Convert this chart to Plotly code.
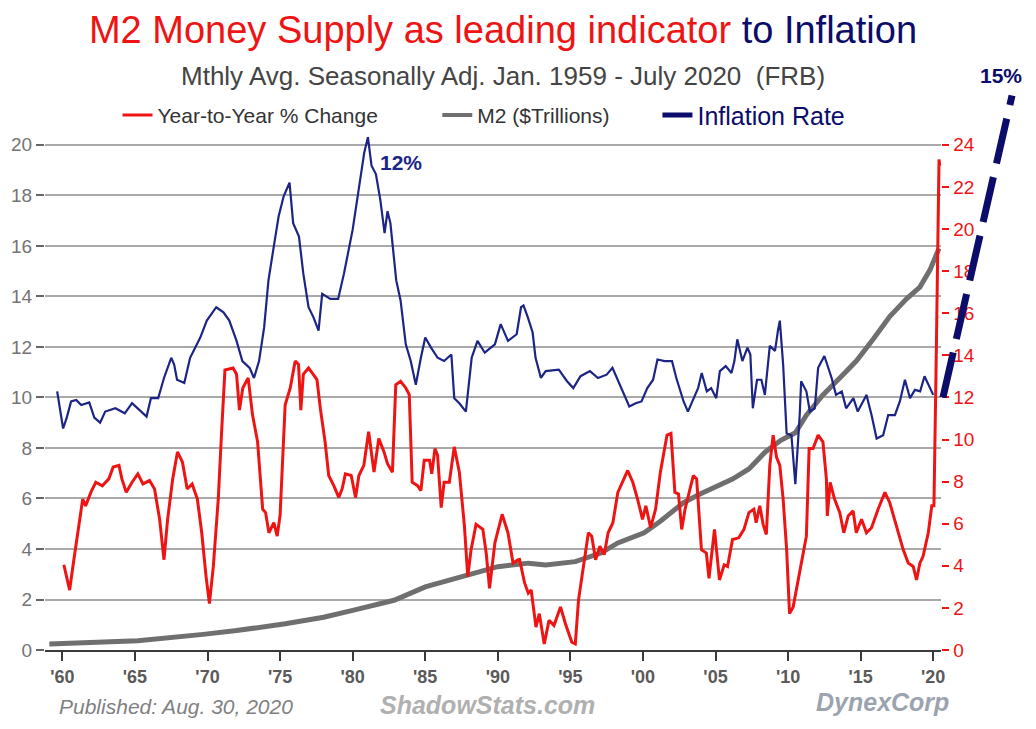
import plotly.graph_objects as go

# ---------------- data ----------------
infl_year = [1959.64, 1960.05, 1960.3, 1960.6, 1960.95, 1961.3, 1961.85, 1962.2, 1962.6, 1962.95,
             1963.65, 1964.3, 1964.8, 1965.2, 1965.8, 1966.1, 1966.6, 1967.0, 1967.5, 1967.7,
             1967.9, 1968.4, 1968.8, 1969.5, 1969.95, 1970.6, 1971.1, 1971.5, 1972.0, 1972.4,
             1972.9, 1973.2, 1973.55, 1973.9, 1974.2, 1974.6, 1974.9, 1975.25, 1975.65, 1975.9,
             1976.3, 1976.6, 1976.96, 1977.3, 1977.65, 1977.9, 1978.46, 1979.0, 1979.4, 1980.0,
             1980.5, 1980.8, 1981.05, 1981.3, 1981.6, 1981.9, 1982.2, 1982.4, 1982.6, 1983.0,
             1983.3, 1983.66, 1984.0, 1984.35, 1984.7, 1985.0, 1985.4, 1985.85, 1986.3, 1986.8,
             1987.0, 1987.35, 1987.8, 1988.2, 1988.6, 1989.1, 1989.8, 1990.2, 1990.7, 1991.3,
             1991.6, 1991.77, 1992.07, 1992.4, 1992.6, 1992.97, 1993.3, 1994.2, 1994.77, 1995.2,
             1995.7, 1996.35, 1996.9, 1997.5, 1997.9, 1998.27, 1998.7, 1999.06, 1999.5, 1999.9,
             2000.3, 2000.7, 2001.0, 2001.5, 2002.0, 2002.3, 2002.8, 2003.1, 2003.5, 2003.8,
             2004.05, 2004.4, 2004.7, 2005.05, 2005.3, 2005.7, 2006.1, 2006.3, 2006.5, 2006.85,
             2007.2, 2007.4, 2007.57, 2007.86, 2008.16, 2008.4, 2008.74, 2009.1, 2009.3, 2009.43,
             2009.66, 2009.9, 2010.23, 2010.5, 2010.8, 2010.9, 2011.26, 2011.5, 2011.84, 2012.07,
             2012.5, 2013.0, 2013.3, 2013.7, 2014.0, 2014.5, 2014.8, 2015.4, 2015.75, 2016.1,
             2016.55, 2016.9, 2017.36, 2017.7, 2018.05, 2018.4, 2018.74, 2019.1, 2019.4, 2019.77,
             2020.0]
infl_val = [10.24, 8.77, 9.2, 9.84, 9.9, 9.7, 9.8, 9.2, 9.0, 9.44,
            9.57, 9.37, 9.77, 9.57, 9.24, 9.97, 9.97, 10.77, 11.57, 11.3,
            10.7, 10.57, 11.57, 12.37, 13.04, 13.57, 13.37, 13.04, 12.24, 11.44,
            11.17, 10.77, 11.44, 12.77, 14.64, 16.1, 17.17, 17.97, 18.5, 16.9,
            16.37, 14.9, 13.57, 13.17, 12.64, 14.1, 13.9, 13.9, 14.9, 16.64,
            18.5, 19.7, 20.3, 19.17, 18.84, 17.84, 16.5, 17.37, 16.9, 14.64,
            13.84, 12.1, 11.44, 10.5, 11.57, 12.37, 11.97, 11.57, 11.44, 11.7,
            9.97, 9.77, 9.44, 11.57, 12.24, 11.77, 12.1, 12.9, 12.24, 12.5,
            13.57, 13.64, 13.17, 12.57, 11.57, 10.77, 11.04, 11.1, 10.64, 10.37,
            10.84, 11.04, 10.77, 10.9, 11.17, 10.7, 10.17, 9.64, 9.77, 9.84,
            10.37, 10.7, 11.5, 11.44, 11.44, 10.77, 9.84, 9.44, 9.97, 10.37,
            10.97, 10.24, 10.37, 9.97, 11.04, 11.24, 10.97, 11.44, 12.3, 11.44,
            11.97, 11.7, 9.57, 10.7, 10.7, 10.1, 12.04, 11.84, 12.64, 13.04,
            11.3, 8.57, 8.5, 6.57, 9.3, 10.64, 10.24, 9.44, 9.57, 11.17,
            11.64, 10.77, 10.1, 10.24, 9.57, 9.97, 9.44, 10.1, 9.3, 8.37,
            8.5, 9.3, 9.3, 9.84, 10.7, 9.97, 10.3, 10.24, 10.84, 10.37,
            10.1]

yoy_year = [1960.1, 1960.5, 1960.75, 1961.06, 1961.4, 1961.6, 1961.96, 1962.3, 1962.75, 1963.2,
            1963.5, 1963.9, 1964.1, 1964.4, 1964.8, 1965.2, 1965.55, 1966.0, 1966.35, 1966.7,
            1967.0, 1967.25, 1967.6, 1967.93, 1968.27, 1968.6, 1968.94, 1969.3, 1969.6, 1969.9,
            1970.13, 1970.4, 1970.74, 1970.97, 1971.2, 1971.76, 1972.0, 1972.2, 1972.43, 1972.8,
            1973.1, 1973.45, 1973.8, 1974.0, 1974.23, 1974.57, 1974.8, 1975.0, 1975.35, 1975.7,
            1976.04, 1976.27, 1976.43, 1976.6, 1976.96, 1977.54, 1977.77, 1978.1, 1978.35, 1978.7,
            1979.04, 1979.27, 1979.5, 1979.9, 1980.2, 1980.43, 1980.77, 1981.1, 1981.47, 1981.8,
            1982.16, 1982.4, 1982.74, 1982.97, 1983.3, 1983.66, 1983.9, 1984.1, 1984.47, 1984.7,
            1984.93, 1985.3, 1985.45, 1985.67, 1985.85, 1986.1, 1986.3, 1986.66, 1987.0, 1987.35,
            1987.7, 1987.93, 1988.16, 1988.5, 1988.97, 1989.2, 1989.43, 1989.8, 1990.3, 1990.7,
            1991.05, 1991.4, 1991.5, 1991.84, 1992.1, 1992.3, 1992.63, 1992.86, 1993.2, 1993.53,
            1993.87, 1994.32, 1994.66, 1995.1, 1995.34, 1995.56, 1995.9, 1996.24, 1996.47, 1996.74,
            1997.03, 1997.33, 1997.6, 1997.93, 1998.27, 1998.68, 1998.95, 1999.3, 1999.63, 1999.97,
            2000.2, 2000.53, 2000.87, 2001.2, 2001.66, 2001.93, 2002.2, 2002.45, 2002.67, 2002.9,
            2003.24, 2003.47, 2003.7, 2004.03, 2004.37, 2004.55, 2004.93, 2005.27, 2005.6, 2005.83,
            2006.17, 2006.6, 2006.96, 2007.3, 2007.64, 2007.8, 2008.05, 2008.28, 2008.5, 2008.74,
            2008.97, 2009.2, 2009.43, 2009.66, 2009.9, 2010.1, 2010.35, 2010.7, 2011.03, 2011.26,
            2011.45, 2011.72, 2012.07, 2012.4, 2012.64, 2012.7, 2012.9, 2013.2, 2013.56, 2013.84,
            2014.14, 2014.48, 2014.7, 2015.06, 2015.4, 2015.75, 2016.2, 2016.67, 2017.0, 2017.47,
            2017.93, 2018.28, 2018.62, 2018.85, 2019.08, 2019.3, 2019.66, 2019.9, 2020.05, 2020.2,
            2020.3, 2020.4, 2020.45]
yoy_val = [4.05, 2.85, 4.1, 5.57, 7.17, 6.85, 7.49, 7.97, 7.8, 8.13,
           8.69, 8.77, 8.13, 7.49, 7.97, 8.37, 7.89, 8.05, 7.65, 6.21,
           4.29, 6.21, 8.13, 9.41, 8.93, 7.65, 7.89, 7.17, 5.57, 3.49,
           2.21, 3.97, 7.17, 10.37, 13.3, 13.4, 13.1, 11.4, 12.45, 12.93,
           11.17, 9.89, 6.69, 6.53, 5.57, 6.05, 5.41, 6.4, 11.65, 12.45,
           13.73, 13.57, 11.4, 13.1, 13.4, 12.85, 11.49, 9.89, 8.29, 7.81,
           7.25, 7.65, 8.37, 8.29, 7.25, 8.29, 8.77, 10.37, 8.45, 10.05,
           9.41, 8.85, 8.45, 12.6, 12.77, 12.45, 12.13, 7.97, 7.81, 7.57,
           9.01, 9.01, 8.37, 9.57, 9.25, 6.77, 7.97, 7.97, 9.65, 8.45,
           5.89, 3.49, 4.77, 5.97, 5.73, 4.61, 2.93, 5.09, 6.45, 5.57,
           4.13, 4.29, 4.3, 3.2, 2.7, 2.85, 1.09, 1.73, 0.29, 1.41,
           1.17, 2.05, 1.25, 0.37, 0.29, 2.37, 3.97, 5.57, 5.41, 4.29,
           4.93, 4.53, 5.57, 6.05, 7.49, 8.13, 8.53, 7.97, 7.17, 6.21,
           6.85, 5.81, 6.69, 8.45, 10.21, 10.29, 7.49, 7.41, 5.73, 6.69,
           7.65, 8.29, 8.13, 4.77, 4.61, 3.41, 5.73, 3.33, 4.05, 3.97,
           5.25, 5.33, 5.73, 6.53, 6.69, 6.05, 6.85, 5.97, 5.49, 8.77,
           10.21, 9.17, 8.77, 7.17, 4.77, 1.73, 2.05, 3.33, 4.45, 5.41,
           9.57, 9.57, 10.21, 9.89, 8.13, 6.37, 7.97, 7.17, 6.53, 5.57,
           6.37, 6.61, 5.57, 6.21, 5.57, 5.81, 6.69, 7.49, 7.01, 5.89,
           4.77, 4.13, 3.97, 3.33, 4.13, 4.45, 5.57, 6.85, 6.85, 13.57,
           19.97, 23.3, 23.0]

m2_year = [1959.1, 1962.0, 1965.2, 1969.7, 1972.0, 1975.36, 1978.0, 1980.0, 1982.85, 1985.0,
           1987.2, 1990.0, 1992.1, 1993.3, 1995.34, 1997.1, 1998.27, 2000.08, 2001.2, 2002.8,
           2003.9, 2005.05, 2006.17, 2007.3, 2008.43, 2009.5, 2010.5, 2011.26, 2012.4, 2013.56,
           2014.7, 2015.86, 2017.0, 2018.16, 2019.08, 2019.77, 2020.1, 2020.4]
m2_val = [0.24, 0.3, 0.37, 0.62, 0.77, 1.04, 1.3, 1.57, 1.97, 2.5,
          2.84, 3.3, 3.44, 3.37, 3.5, 3.84, 4.24, 4.64, 5.1, 5.84,
          6.17, 6.5, 6.77, 7.17, 7.84, 8.3, 8.6, 9.3, 10.1, 10.77,
          11.44, 12.3, 13.2, 13.9, 14.37, 15.04, 15.45, 15.9]

proj_year = [2020.67, 2025.43]
proj_val = [10.0, 21.95]

tick_years = [1960, 1965, 1970, 1975, 1980, 1985, 1990, 1995, 2000, 2005, 2010, 2015, 2020]
tick_text = ["'60", "'65", "'70", "'75", "'80", "'85", "'90", "'95", "'00", "'05", "'10", "'15", "'20"]
left_ticks = list(range(0, 21, 2))
right_ticks = list(range(0, 25, 2))

# ---------------- styling ----------------
W, H = 1036, 729
NARROW = "Liberation Sans Narrow, Arial Narrow, Liberation Sans, Arial, sans-serif"
SANS = "Liberation Sans, Arial, sans-serif"
RED = "#ee1414"
NAVY = "#1c2585"
DNAVY = "#0c0c6a"
GRAY = "#6f6f6f"

x_range = [1958.79, 2020.56]
x_dom = [45 / W, 945 / W]
y_range = [0, 20.8]
y_dom = [(H - 660) / H, (H - 126.5) / H]
# overlay axes extend the same data scale out to the page edges
x3_range = [x_range[0], x_range[0] + (x_range[1] - x_range[0]) * (1 - x_dom[0]) / (x_dom[1] - x_dom[0])]
y3_range = [y_range[0], y_range[0] + (y_range[1] - y_range[0]) * (1 - y_dom[0]) / (y_dom[1] - y_dom[0])]

fig = go.Figure()

fig.add_trace(go.Scatter(x=m2_year, y=m2_val, mode="lines", line=dict(color=GRAY, width=5),
                         showlegend=False, xaxis="x", yaxis="y"))
fig.add_trace(go.Scatter(x=infl_year, y=infl_val, mode="lines", line=dict(color=NAVY, width=2.2),
                         showlegend=False, xaxis="x", yaxis="y"))
fig.add_trace(go.Scatter(x=yoy_year, y=yoy_val, mode="lines", line=dict(color=RED, width=3),
                         showlegend=False, xaxis="x", yaxis="y2"))
fig.add_trace(go.Scatter(x=proj_year, y=proj_val, mode="lines",
                         line=dict(color=DNAVY, width=7, dash="46px,14px"),
                         showlegend=False, xaxis="x3", yaxis="y3"))

# legend entries
fig.add_trace(go.Scatter(x=[None], y=[None], mode="lines", line=dict(color=RED, width=3),
                         name="Year-to-Year % Change", legend="legend"))
fig.add_trace(go.Scatter(x=[None], y=[None], mode="lines", line=dict(color=GRAY, width=4),
                         name="M2 ($Trillions)", legend="legend2"))
fig.add_trace(go.Scatter(x=[None], y=[None], mode="lines", line=dict(color=DNAVY, width=5),
                         name="Inflation Rate", legend="legend3"))

leg_common = dict(orientation="h", xanchor="left", yanchor="middle", bgcolor="rgba(0,0,0,0)",
                  borderwidth=0, tracegroupgap=0)

fig.update_layout(
    width=W, height=H,
    margin=dict(l=0, r=0, t=0, b=0),
    paper_bgcolor="white", plot_bgcolor="rgba(0,0,0,0)",
    title=dict(
        text=f'<span style="color:{RED}">M2 Money Supply as leading indicator</span>'
             f' <span style="color:{DNAVY}">to Inflation</span>',
        x=503 / W, xanchor="center", y=1 - 30 / H, yanchor="middle",
        font=dict(family=NARROW, size=38)),
    xaxis=dict(domain=x_dom, range=x_range, tickvals=tick_years, ticktext=tick_text,
               showgrid=False, zeroline=False, showline=True, linecolor="#3a3a3a", linewidth=2,
               ticks="outside", ticklen=9, tickwidth=2, tickcolor="#3a3a3a",
               tickfont=dict(family=NARROW, size=18, color="#5a5a5a", weight="bold")),
    yaxis=dict(domain=y_dom, range=y_range, tickvals=left_ticks,
               showgrid=True, gridcolor="#a9a9a9", gridwidth=2, zeroline=False, showline=False,
               ticks="outside", ticklen=8, tickwidth=2, tickcolor="#666666",
               tickfont=dict(family=SANS, size=19, color="#747474")),
    yaxis2=dict(range=[y_range[0] * 1.2, y_range[1] * 1.2], tickvals=right_ticks,
                overlaying="y", side="right", anchor="x", showgrid=False, zeroline=False,
                showline=False, ticks="outside", ticklen=7, tickwidth=2, tickcolor=RED,
                tickfont=dict(family=SANS, size=19, color=RED)),
    xaxis3=dict(domain=[x_dom[0], 1], range=x3_range, visible=False, anchor="y3"),
    yaxis3=dict(domain=[y_dom[0], 1], range=y3_range, visible=False, anchor="x3"),
    legend=dict(x=118 / W, y=1 - 117 / H, font=dict(family=NARROW, size=21, color="#333333"), **leg_common),
    legend2=dict(x=439 / W, y=1 - 117 / H, font=dict(family=NARROW, size=21, color="#333333"), **leg_common),
    legend3=dict(x=660 / W, y=1 - 117 / H, font=dict(family=NARROW, size=25, color=DNAVY), **leg_common),
    showlegend=True,
)

ann = [
    dict(text="Mthly Avg. Seasonally Adj. Jan. 1959 - July 2020  (FRB)", xref="paper", yref="paper",
         x=505 / W, y=1 - 77 / H, xanchor="center", yanchor="middle", showarrow=False,
         font=dict(family=NARROW, size=26, color="#444444")),
    dict(text="<b>12%</b>", xref="x", yref="y", x=1983.36, y=19.3, showarrow=False,
         xanchor="center", yanchor="middle", font=dict(family=SANS, size=21, color=NAVY)),
    dict(text="<b>15%</b>", xref="x3", yref="y3", x=2024.67, y=22.73, showarrow=False,
         xanchor="center", yanchor="middle", font=dict(family=SANS, size=21, color=DNAVY)),
    dict(text="<i>Published: Aug. 30, 2020</i>", xref="paper", yref="paper",
         x=57 / W, y=1 - 717 / H, xanchor="left", yanchor="middle", showarrow=False,
         font=dict(family=NARROW, size=21, color="#808080")),
    dict(text="<b><i>ShadowStats.com</i></b>", xref="paper", yref="paper",
         x=489 / W, y=1 - 716 / H, xanchor="center", yanchor="middle", showarrow=False,
         font=dict(family=NARROW, size=25, color="#b0b0b0")),
    dict(text="<b><i>DynexCorp</i></b>", xref="paper", yref="paper",
         x=955 / W, y=1 - 713 / H, xanchor="right", yanchor="middle", showarrow=False,
         font=dict(family=NARROW, size=25, color="#9ba4ae")),
]
fig.update_layout(annotations=ann)

fig.write_html("out.html", config={"displayModeBar": False},
               post_script="document.body.style.margin='0';document.body.style.padding='0';")
